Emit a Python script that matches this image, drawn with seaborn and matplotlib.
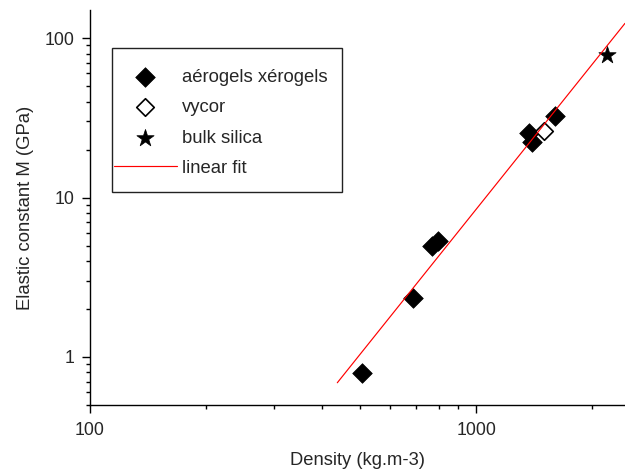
import matplotlib
matplotlib.use("Agg")
import matplotlib.pyplot as plt
from matplotlib.patches import Rectangle
from matplotlib.ticker import LogLocator, NullFormatter, FixedLocator, FixedFormatter
import numpy as np
import seaborn as sns

# Aerogels / xerogels: density (kg/m^3) and longitudinal elastic constant M (GPa)
aerogel_density = [505, 685, 767, 798, 1374, 1394, 1602]
aerogel_modulus = [0.79, 2.33, 4.97, 5.36, 25.3, 22.4, 32.6]

vycor_density = [1503]
vycor_modulus = [26.2]

silica_density = [2188]
silica_modulus = [78.5]

# Power-law fit: log10(M) = fit_intercept + fit_slope * log10(density)
fit_slope = 3.025
fit_intercept = -8.149
fit_density = [437, 2430]

x_ticks = [100, 1000]
x_ticklabels = ["100", "1000"]
y_ticks = [1, 10, 100]
y_ticklabels = ["1", "10", "100"]

sns.set_style("ticks")
plt.rcParams["font.family"] = ["Liberation Sans", "DejaVu Sans"]
plt.rcParams["font.size"] = 13.3

fig = plt.figure(figsize=(6.25, 4.70), dpi=100)
ax = fig.add_axes([90 / 625, 65 / 470, 535 / 625, 395 / 470])

sns.scatterplot(x=aerogel_density, y=aerogel_modulus, marker="D", s=100,
                color="black", edgecolor="black", linewidth=0.5,
                label="aérogels xérogels", ax=ax, zorder=2)
sns.scatterplot(x=vycor_density, y=vycor_modulus, marker="D", s=80,
                color="white", edgecolor="black", linewidth=1.2,
                label="vycor", ax=ax, zorder=3)
sns.scatterplot(x=silica_density, y=silica_modulus, marker="*", s=170,
                color="black", edgecolor="black", linewidth=0.5,
                label="bulk silica", ax=ax, zorder=3)

fit_x = np.array(fit_density, dtype=float)
fit_y = 10 ** (fit_intercept + fit_slope * np.log10(fit_x))
sns.lineplot(x=fit_x, y=fit_y, color="red", linewidth=0.85,
             label="linear fit", ax=ax, zorder=4, sort=False)

ax.set_xscale("log")
ax.set_yscale("log")
ax.set_xlim(100, 2430)
ax.set_ylim(0.5, 150)

ax.xaxis.set_major_locator(FixedLocator(x_ticks))
ax.xaxis.set_major_formatter(FixedFormatter(x_ticklabels))
ax.yaxis.set_major_locator(FixedLocator(y_ticks))
ax.yaxis.set_major_formatter(FixedFormatter(y_ticklabels))
ax.xaxis.set_minor_locator(LogLocator(base=10, subs=np.arange(2, 10), numticks=20))
ax.yaxis.set_minor_locator(LogLocator(base=10, subs=np.arange(2, 10), numticks=20))
ax.xaxis.set_minor_formatter(NullFormatter())
ax.yaxis.set_minor_formatter(NullFormatter())

ax.tick_params(which="major", direction="out", length=6, width=1.0,
               labelsize=12.8, pad=5, color="black")
ax.tick_params(axis="x", which="major", pad=6.5)
ax.tick_params(which="minor", direction="out", length=3.2, width=1.0, color="black")

for side in ("top", "right"):
    ax.spines[side].set_visible(False)
for side in ("left", "bottom"):
    ax.spines[side].set_linewidth(1.0)
    ax.spines[side].set_color("black")

ax.set_xlabel("Density (kg.m-3)", fontsize=13.2, labelpad=9)
ax.set_ylabel("Elastic constant M (GPa)", fontsize=13.3, labelpad=8)

leg = ax.legend(loc="upper left", bbox_to_anchor=(114 / 625, 1 - 69 / 470),
                bbox_transform=fig.transFigure, frameon=False, borderpad=0,
                borderaxespad=0, handlelength=3.4, handletextpad=0.3,
                labelspacing=0.72, fontsize=13.3)

fig.patches.append(Rectangle((111.7 / 625, 1 - 192.3 / 470), 230 / 625, 144.6 / 470,
                             transform=fig.transFigure, fill=False,
                             edgecolor="#222222", linewidth=1.0, zorder=5))

fig.savefig("out.png", dpi=100)
